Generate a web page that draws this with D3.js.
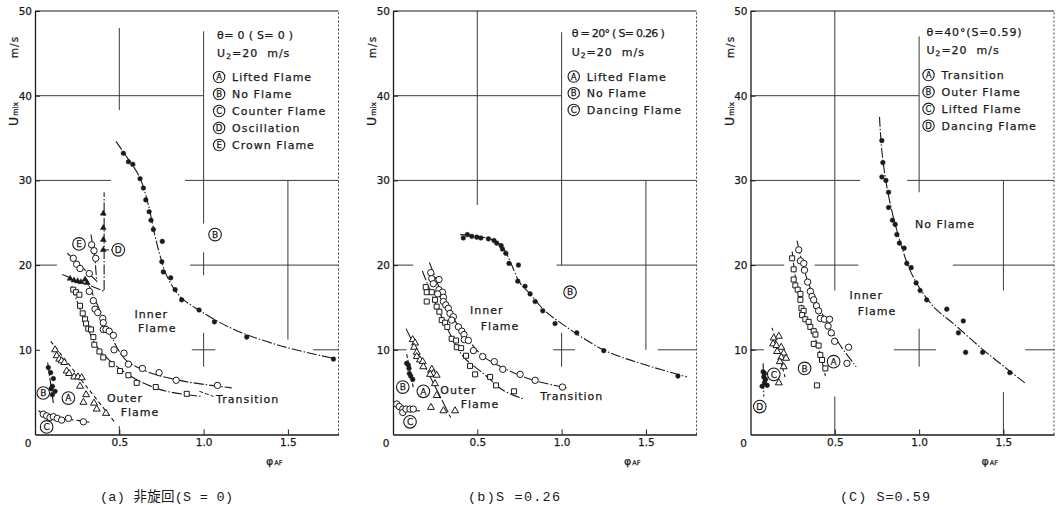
<!DOCTYPE html>
<html><head><meta charset="utf-8">
<script src="https://cdn.jsdelivr.net/npm/d3@7"></script>
<style>body{margin:0;background:#fff}svg{display:block}</style>
</head><body>
<svg id="chart" width="1058" height="505"></svg>
<script>
// ---------- axis / tick data ----------
const X_DOMAIN = [0, 1.8];
const Y_DOMAIN = [0, 50];
const xTickVals = [0.5, 1.0, 1.5];
const yTickVals = [10, 20, 30, 40, 50];

// ---------- panel (a) S=0 ----------
const a_noFlamePts = [[0.524,33.2],[0.554,32.2],[0.58,31.9],[0.623,30.2],[0.643,29.1],[0.657,27.7],[0.677,26.3],[0.688,25.3],[0.702,24.2],[0.755,22.8],[0.752,20.4],[0.761,19.2],[0.805,18.5],[0.831,17.1],[0.87,15.9],[0.973,14.7],[1.064,13.3],[1.256,11.5],[1.77,8.9]];
const a_noFlameFit = [[0.48,34.6],[0.55,32.6],[0.62,30.4],[0.67,27.3],[0.71,23.6],[0.742,21.1],[0.782,18.7],[0.86,16.3],[0.98,14.6],[1.18,12.4],[1.47,10.4],[1.77,9.0]];
const a_innerPts = [[0.322,16.9],[0.346,15.8],[0.356,14.8],[0.372,14.4],[0.402,13.7],[0.405,13.2],[0.405,12.4],[0.421,12.4],[0.44,12.2],[0.465,11.7],[0.469,10.0],[0.528,9.6],[0.554,8.3],[0.637,7.8],[0.736,7.3],[0.837,6.4],[1.082,5.8]];
const a_innerFit = [[0.322,17.5],[0.386,14.6],[0.445,12.0],[0.494,10.0],[0.544,8.7],[0.682,7.3],[0.88,6.3],[1.167,5.5]];
const a_outerPts = [[0.227,17.1],[0.243,16.8],[0.263,16.5],[0.267,15.2],[0.283,14.3],[0.297,13.6],[0.303,13.1],[0.316,12.5],[0.332,12.4],[0.346,11.5],[0.352,10.6],[0.382,9.8],[0.405,9.1],[0.455,8.3],[0.504,7.5],[0.554,7.0],[0.603,6.1],[0.716,5.6],[0.9,4.8]];
const a_outerFit = [[0.218,17.5],[0.267,14.8],[0.316,12.4],[0.366,10.4],[0.445,8.7],[0.583,6.7],[0.742,5.3],[0.90,4.7],[0.99,4.5]];
const a_liftedPts = [[0.119,10.0],[0.129,9.3],[0.144,8.9],[0.158,8.7],[0.174,8.5],[0.188,7.5],[0.202,7.2],[0.232,6.8],[0.255,6.8],[0.277,6.7],[0.267,5.7],[0.303,4.7],[0.287,3.8],[0.35,3.7],[0.366,3.0],[0.421,2.5]];
const a_liftedFit = [[0.093,11.0],[0.475,1.4]];
const a_bPts = [[0.079,7.9],[0.093,7.3],[0.109,6.6],[0.103,5.7],[0.095,5.4],[0.119,5.1],[0.103,4.7]];
const a_bFit = [[0.075,8.5],[0.109,3.7]];
const a_counterPts = [[0.049,2.4],[0.069,2.2],[0.089,2.0],[0.109,2.1],[0.132,1.9],[0.158,1.7],[0.198,1.9],[0.287,1.5]];
const a_counterFit = [[0.02,2.8],[0.1,2.0],[0.2,1.8],[0.342,1.4]];
const a_oscPts = [[0.405,26.1],[0.405,24.4],[0.405,23.0],[0.405,21.8],[0.208,18.4],[0.231,18.2],[0.253,18.1],[0.273,18.0],[0.297,18.3],[0.31,17.9]];
const a_oscFit = [[0.162,18.9],[0.41,16.9],[0.41,28.6]];
const a_crownPts = [[0.336,22.4],[0.35,21.7],[0.36,20.8],[0.227,20.8],[0.247,20.1],[0.267,19.6],[0.322,19.0]];
const a_crownFit = [[0.192,21.4],[0.366,18.1],[0.356,20.7],[0.332,23.6]];
const a_leaders = [[[0.415,21.8],[0.465,21.8]],[[0.975,5.1],[1.058,4.5]]];
const a_gridH = [[40,0,1.0],[30,0,0.45],[30,0.89,1.8],[20,0,0.13],[20,0.92,1.8],[10,0.93,1.07],[10,1.65,1.8]];
const a_gridV = [[0.5,38.3,48],[1.0,24.9,47.6],[1.0,18.8,21.5],[1.0,8,12],[1.5,11.2,30],[0.5,0,1]];
const a_legendLetters = ["A","B","C","D","E"];
const a_legendNames = ["Lifted Flame","No Flame","Counter Flame","Oscillation","Crown Flame"];
const a_markLetters = ["A","B","C","E","D","B"];
const a_markPos = [[0.198,4.3],[0.049,4.9],[0.069,0.9],[0.261,22.5],[0.494,21.8],[1.068,23.6]];
const a_textLabels = ["Inner","Flame","Outer","Flame"];
const a_textPos = [[0.69,14.2],[0.725,12.5],[0.534,4.3],[0.623,2.6]];

// ---------- panel (b) S=0.26 ----------
const b_noFlamePts = [[0.417,23.2],[0.441,23.6],[0.467,23.4],[0.497,23.3],[0.521,23.2],[0.566,23.1],[0.599,22.9],[0.615,22.6],[0.641,22.3],[0.649,21.9],[0.669,21.4],[0.688,20.2],[0.744,20.0],[0.74,18.1],[0.783,17.5],[0.813,16.6],[0.843,15.7],[0.888,14.6],[0.961,13.1],[1.09,12.0],[1.25,9.9],[1.69,6.9]];
const b_noFlameFit = [[0.398,23.6],[0.5,23.4],[0.6,22.9],[0.66,21.8],[0.70,20.2],[0.75,18.0],[0.813,16.6],[0.9,14.6],[0.971,13.5],[1.248,10.0],[1.5,8.2],[1.743,6.8]];
const b_innerPts = [[0.224,19.1],[0.23,18.4],[0.273,18.3],[0.239,17.8],[0.273,17.1],[0.293,16.8],[0.265,16.6],[0.299,16.2],[0.299,15.7],[0.313,15.3],[0.328,14.9],[0.338,14.3],[0.358,13.9],[0.348,13.5],[0.388,12.7],[0.408,12.2],[0.421,11.8],[0.423,11.2],[0.447,11.1],[0.477,9.9],[0.532,9.2],[0.601,8.6],[0.651,7.7],[0.754,7.1],[0.843,6.4],[1.005,5.6]];
const b_innerFit = [[0.216,20.3],[0.299,16.2],[0.378,13.1],[0.457,10.9],[0.536,9.2],[0.65,7.9],[0.75,7.0],[0.85,6.3],[1.03,5.5]];
const b_outerPts = [[0.194,17.4],[0.2,16.8],[0.2,15.7],[0.23,16.8],[0.249,15.9],[0.259,15.1],[0.275,14.5],[0.289,13.5],[0.309,13.2],[0.322,12.7],[0.348,11.3],[0.374,11.1],[0.378,10.3],[0.404,10.2],[0.433,9.3],[0.457,8.1],[0.487,7.1],[0.576,6.8],[0.611,5.8],[0.718,5.1]];
const b_outerFit = [[0.174,19.3],[0.25,15.6],[0.33,12.2],[0.417,9.2],[0.536,7.2],[0.655,5.2],[0.773,4.2]];
const b_liftedPts = [[0.117,11.2],[0.131,10.8],[0.125,10.3],[0.141,9.7],[0.141,9.2],[0.16,8.8],[0.176,8.6],[0.18,8.0],[0.23,7.7],[0.239,7.2],[0.22,7.1],[0.259,7.0],[0.249,6.0],[0.259,4.6],[0.225,3.2],[0.299,2.8],[0.368,2.8]];
const b_liftedFit = [[0.077,12.5],[0.342,2.0]];
const b_bPts = [[0.081,8.4],[0.091,8.2],[0.095,7.8],[0.097,7.2],[0.105,6.9],[0.117,6.5]];
const b_bFit = [[0.081,9.5],[0.12,5.6]];
const b_dancingPts = [[0.022,3.6],[0.037,3.3],[0.058,3.0],[0.058,2.6],[0.077,3.0],[0.101,3.0],[0.12,3.0]];
const b_dancingFit = [[0.12,2.8],[0.16,2.8]];
const b_gridH = [[40,0,1.0],[30,0,1.8],[20,0,0.12],[20,0.97,1.8],[10,0,0.08],[10,0.95,1.08],[10,1.57,1.8]];
const b_gridV = [[0.5,27.1,50],[1.0,20,47.5],[1.0,8,12],[1.5,10,30]];
const b_legendLetters = ["A","B","C"];
const b_legendNames = ["Lifted Flame","No Flame","Dancing Flame"];
const b_markLetters = ["B","A","C","B"];
const b_markPos = [[0.058,5.6],[0.18,5.1],[0.101,1.5],[1.05,16.8]];
const b_textLabels = ["Inner","Flame","Outer","Flame","Transition"];
const b_textPos = [[0.556,14.7],[0.635,12.8],[0.388,5.2],[0.516,3.6],[1.06,4.5]];

// ---------- panel (c) S=0.59 ----------
const c_noFlamePts = [[0.779,34.7],[0.785,32.1],[0.779,30.4],[0.803,30.0],[0.819,28.6],[0.819,26.8],[0.842,25.3],[0.858,24.8],[0.868,23.6],[0.883,22.6],[0.911,22.0],[0.927,20.2],[0.953,19.7],[0.982,17.9],[1.006,17.0],[1.045,15.9],[1.164,14.8],[1.262,13.4],[1.233,12.0],[1.276,9.7],[1.377,9.7],[1.538,7.3]];
const c_noFlameFit = [[0.765,37.5],[0.779,33.5],[0.809,29.2],[0.868,24.1],[0.96,18.8],[1.085,15.1],[1.203,13.1],[1.38,10.0],[1.627,6.1]];
const c_transPts = [[0.286,21.8],[0.296,20.5],[0.316,20.2],[0.32,19.4],[0.339,18.0],[0.355,16.9],[0.365,16.3],[0.375,15.9],[0.391,15.2],[0.404,14.6],[0.414,13.7],[0.438,13.6],[0.469,13.6],[0.46,12.8],[0.479,12.0],[0.499,11.0],[0.582,10.3],[0.572,8.4]];
const c_transFit = [[0.276,22.9],[0.30,20.8],[0.345,17.8],[0.424,14.3],[0.523,10.8],[0.627,8.0]];
const c_outerPts = [[0.247,20.8],[0.256,19.5],[0.256,18.3],[0.266,17.6],[0.28,17.1],[0.296,16.6],[0.296,15.9],[0.302,14.9],[0.315,14.6],[0.306,14.1],[0.325,13.6],[0.345,13.3],[0.355,12.7],[0.375,12.2],[0.385,11.8],[0.375,10.7],[0.404,10.5],[0.414,9.4],[0.424,8.8],[0.444,7.8],[0.394,5.8]];
const c_outerFit = [[0.247,21.6],[0.276,17.4],[0.325,13.9],[0.394,10.8],[0.444,6.9]];
const c_liftedPts = [[0.138,11.4],[0.168,11.6],[0.134,10.7],[0.154,10.5],[0.182,10.3],[0.158,9.8],[0.197,9.6],[0.182,9.1],[0.211,9.0],[0.174,8.6],[0.197,8.0],[0.168,6.1]];
const c_liftedFit = [[0.128,12.6],[0.207,6.6]];
const c_dancingPts = [[0.075,7.4],[0.083,7.2],[0.079,6.8],[0.089,6.5],[0.083,6.1],[0.099,5.8],[0.069,5.7]];
const c_dancingFit = [[0.075,8.4],[0.079,4.5]];
const c_gridH = [[40,0,1.0],[30,0,0.65],[30,0.93,1.8],[20,0,0.2],[20,0.38,0.64],[20,1.2,1.8],[10,0,0.08],[10,0.85,1.1],[10,1.63,1.8]];
const c_gridV = [[0.5,17,50],[0.5,0,4.5],[1.0,28.6,47],[1.0,8,12.5],[1.5,17,30],[1.5,0,5]];
const c_legendLetters = ["A","B","C","D"];
const c_legendNames = ["Transition","Outer Flame","Lifted Flame","Dancing Flame"];
const c_markLetters = ["A","B","C","D"];
const c_markPos = [[0.493,8.6],[0.321,7.8],[0.138,7.1],[0.055,3.3]];
const c_textLabels = ["Inner","Flame","No Flame"];
const c_textPos = [[0.686,16.5],[0.75,14.6],[1.154,24.8]];

const panelTitles = ["θ= 0 ( S= 0 )", "θ = 20° ( S= 0.26 )", "θ=40°(S=0.59)"];
const panelU2 = ["20  m/s", "20  m/s", "20  m/s"];
const panelCaptions = ["(a) 非旋回(S = 0)", "(b)S =0.26", "(C) S=0.59"];

// ---------- layout (positions / styles) ----------
const W = 1058, H = 505;
const LEFTS = [35, 393, 750.5], PW = 303.5, TOP = 11, BOT = 434.5;
const INK = "#1a1a1a";
const FONT = "DejaVu Sans, Verdana, sans-serif";
const TITLE_W = [76, 93, 95];
const U2_W = [72, 72, 72];
const CAP_X = [100, 468, 840], CAP_W = [133, 92, 90];

const panels = [
  { left: LEFTS[0], gridH: a_gridH, gridV: a_gridV,
    series: [
      {pts:a_noFlamePts, fit:a_noFlameFit, mk:"dot"},
      {pts:a_innerPts, fit:a_innerFit, mk:"circle"},
      {pts:a_outerPts, fit:a_outerFit, mk:"square"},
      {pts:a_liftedPts, fit:a_liftedFit, mk:"tri", dash:"4,3"},
      {pts:a_bPts, fit:a_bFit, mk:"dot"},
      {pts:a_counterPts, fit:a_counterFit, mk:"circle", dash:"5,3"},
      {pts:a_oscPts, fit:a_oscFit, mk:"ftri", linear:true},
      {pts:a_crownPts, fit:a_crownFit, mk:"circle", linear:true}
    ],
    leaders: a_leaders,
    legL: a_legendLetters, legN: a_legendNames, legX: 1.086,
    titleY: 35, u2Y: 53, legY0: 77, legDY: 17,
    markL: a_markLetters, markP: a_markPos, txtL: a_textLabels, txtP: a_textPos,
    trans: {x:1.074, y:4.2} },
  { left: LEFTS[1], gridH: b_gridH, gridV: b_gridV,
    series: [
      {pts:b_noFlamePts, fit:b_noFlameFit, mk:"dot"},
      {pts:b_innerPts, fit:b_innerFit, mk:"circle"},
      {pts:b_outerPts, fit:b_outerFit, mk:"square"},
      {pts:b_liftedPts, fit:b_liftedFit, mk:"tri", dash:"14,2"},
      {pts:b_bPts, fit:b_bFit, mk:"dot", dash:"4,2"},
      {pts:b_dancingPts, fit:b_dancingFit, mk:"circle"}
    ],
    leaders: [],
    legL: b_legendLetters, legN: b_legendNames, legX: 1.066,
    titleY: 33, u2Y: 51.5, legY0: 76.5, legDY: 16.7,
    markL: b_markLetters, markP: b_markPos, txtL: b_textLabels, txtP: b_textPos },
  { left: LEFTS[2], gridH: c_gridH, gridV: c_gridV,
    series: [
      {pts:c_noFlamePts, fit:c_noFlameFit, mk:"dot"},
      {pts:c_transPts, fit:c_transFit, mk:"circle"},
      {pts:c_outerPts, fit:c_outerFit, mk:"square", dash:"6,2,1.5,2"},
      {pts:c_liftedPts, fit:c_liftedFit, mk:"tri", dash:"3,3"},
      {pts:c_dancingPts, fit:c_dancingFit, mk:"dot"}
    ],
    leaders: [],
    legL: c_legendLetters, legN: c_legendNames, legX: 1.05,
    titleY: 32, u2Y: 50, legY0: 75, legDY: 16.9,
    markL: c_markLetters, markP: c_markPos, txtL: c_textLabels, txtP: c_textPos }
];

const svg = d3.select("#chart");
svg.append("rect").attr("width", W).attr("height", H).attr("fill", "#fff");

const symbolFor = {
  dot: d3.symbol().type(d3.symbolCircle).size(17),
  circle: d3.symbol().type(d3.symbolCircle).size(32),
  square: d3.symbol().type(d3.symbolSquare).size(25),
  tri: d3.symbol().type(d3.symbolTriangle).size(21),
  ftri: d3.symbol().type(d3.symbolTriangle).size(15)
};
// slightly heavier text, like the scanned original
const ink = sel => sel.attr("fill", INK).attr("stroke", INK).attr("stroke-width", 0.25);

panels.forEach((p, i) => {
  const x = d3.scaleLinear().domain(X_DOMAIN).range([p.left, p.left + PW]);
  const y = d3.scaleLinear().domain(Y_DOMAIN).range([BOT, TOP]);
  const g = svg.append("g");

  // grid segments
  g.selectAll("line.gh").data(p.gridH).join("line")
    .attr("x1", d => x(d[1])).attr("x2", d => x(d[2]))
    .attr("y1", d => y(d[0])).attr("y2", d => y(d[0]))
    .attr("stroke", "#3a3a3a").attr("stroke-width", 1);
  g.selectAll("line.gv").data(p.gridV).join("line")
    .attr("x1", d => x(d[0])).attr("x2", d => x(d[0]))
    .attr("y1", d => y(d[1])).attr("y2", d => y(d[2]))
    .attr("stroke", "#3a3a3a").attr("stroke-width", 1);

  // frame top + right
  g.append("line").attr("x1", x(0)).attr("x2", x(1.8)).attr("y1", y(50)).attr("y2", y(50))
    .attr("stroke", INK).attr("stroke-width", 1.1);
  g.append("line").attr("x1", x(1.8)).attr("x2", x(1.8)).attr("y1", y(0)).attr("y2", y(50))
    .attr("stroke", "#444").attr("stroke-width", 1).attr("stroke-dasharray", "2,2");

  // axes
  const ay = g.append("g").attr("transform", `translate(${x(0)},0)`)
    .call(d3.axisLeft(y).tickValues(yTickVals).tickSizeInner(-5).tickSizeOuter(0).tickPadding(3));
  const ax = g.append("g").attr("transform", `translate(0,${y(0)})`)
    .call(d3.axisBottom(x).tickValues(xTickVals).tickSizeInner(-5).tickSizeOuter(0).tickPadding(4).tickFormat(d3.format(".1f")));
  [ay, ax].forEach(a => {
    a.select(".domain").attr("stroke", INK).attr("stroke-width", 1.3);
    a.selectAll(".tick line").attr("stroke", INK);
    a.selectAll(".tick text").call(ink).style("font-family", FONT).style("font-size", "10.5px");
  });
  g.append("text").attr("x", x(0) - 7).attr("y", y(0) + 12.5).attr("text-anchor", "middle")
    .style("font-family", FONT).style("font-size", "10.5px").call(ink).text("0");

  // axis titles
  g.append("text").attr("transform", `translate(${x(0) - 17},47) rotate(-90)`)
    .attr("text-anchor", "middle").style("font-family", FONT).style("font-size", "10.5px")
    .style("letter-spacing", "1px").call(ink).text("m/s");
  const ut = g.append("text").attr("transform", `translate(${x(0) - 17},114) rotate(-90)`)
    .attr("text-anchor", "middle").style("font-family", FONT).call(ink);
  ut.append("tspan").style("font-size", "12.5px").text("U");
  ut.append("tspan").style("font-size", "7.5px").attr("dx", 1).text("mix");
  const pt = g.append("text").attr("x", x(1.37)).attr("y", 465).style("font-family", FONT).call(ink);
  pt.append("tspan").style("font-size", "11px").text("φ");
  pt.append("tspan").style("font-size", "6.5px").attr("dx", 1).text("AF");

  // fit lines
  p.series.forEach(s => {
    const line = d3.line().x(d => x(d[0])).y(d => y(d[1]))
      .curve(s.linear || s.fit.length < 3 ? d3.curveLinear : d3.curveCatmullRom.alpha(0.5));
    g.append("path").attr("d", line(s.fit)).attr("fill", "none")
      .attr("stroke", INK).attr("stroke-width", 1.1)
      .attr("stroke-dasharray", s.dash || "10,2,1.5,2");
  });
  p.leaders.forEach(l => {
    g.append("path").attr("d", d3.line().x(d => x(d[0])).y(d => y(d[1]))(l))
      .attr("fill", "none").attr("stroke", INK).attr("stroke-width", 1).attr("stroke-dasharray", "4,2");
  });

  // markers
  p.series.forEach(s => {
    const filled = s.mk === "dot" || s.mk === "ftri";
    g.selectAll(null).data(s.pts).join("path")
      .attr("transform", d => `translate(${x(d[0])},${y(d[1])})`)
      .attr("d", symbolFor[s.mk]())
      .attr("fill", filled ? INK : "#fff")
      .attr("stroke", INK).attr("stroke-width", filled ? 0.5 : 1);
  });

  // circled letter labels
  const circLetter = (cx, cy, letter, r, fs) => {
    const cg = g.append("g").attr("transform", `translate(${cx},${cy})`);
    cg.append("circle").attr("r", r).attr("fill", "#fff").attr("stroke", INK).attr("stroke-width", 1.1);
    cg.append("text").attr("text-anchor", "middle").attr("dy", "0.36em")
      .style("font-family", FONT).style("font-size", fs + "px").call(ink).text(letter);
  };
  p.markL.forEach((L, k) => circLetter(x(p.markP[k][0]), y(p.markP[k][1]), L, 6.3, 9));

  // region text labels
  p.txtL.forEach((t, k) => {
    g.append("text").attr("x", x(p.txtP[k][0])).attr("y", y(p.txtP[k][1])).attr("dy", "0.35em")
      .attr("text-anchor", "middle").style("font-family", FONT).style("font-size", "11px")
      .style("letter-spacing", "1px").call(ink).text(t);
  });
  if (p.trans) {
    g.append("text").attr("x", x(p.trans.x)).attr("y", y(p.trans.y)).attr("dy", "0.35em")
      .style("font-family", FONT).style("font-size", "11px").style("letter-spacing", "1px")
      .call(ink).text("Transition");
  }

  // legend
  const lx = x(p.legX);
  g.append("text").attr("x", lx - 1).attr("y", p.titleY + 4).style("font-family", FONT)
    .style("font-size", "11px").style("white-space", "pre")
    .attr("textLength", TITLE_W[i]).attr("lengthAdjust", "spacing").call(ink).text(panelTitles[i]);
  const u2 = g.append("text").attr("x", lx - 1).attr("y", p.u2Y + 4).style("font-family", FONT)
    .style("font-size", "11px").style("letter-spacing", "1px").style("white-space", "pre").call(ink);
  u2.append("tspan").text("U");
  u2.append("tspan").style("font-size", "7.5px").attr("dy", 2).text("2");
  u2.append("tspan").attr("dy", -2).text("=" + panelU2[i]);
  p.legL.forEach((L, k) => {
    const ly = p.legY0 + k * p.legDY;
    circLetter(lx + 1, ly, L, 5.7, 8.5);
    g.append("text").attr("x", lx + 14).attr("y", ly + 4).style("font-family", FONT)
      .style("font-size", "11px").style("letter-spacing", "1px").call(ink).text(p.legN[k]);
  });

  // caption
  g.append("text").attr("x", CAP_X[i]).attr("y", 501)
    .style("font-family", "Liberation Mono, Noto Sans CJK JP, monospace").style("font-size", "13.5px")
    .style("white-space", "pre").attr("textLength", CAP_W[i]).attr("lengthAdjust", "spacing")
    .attr("fill", INK).text(panelCaptions[i]);
});
</script>
</body></html>
